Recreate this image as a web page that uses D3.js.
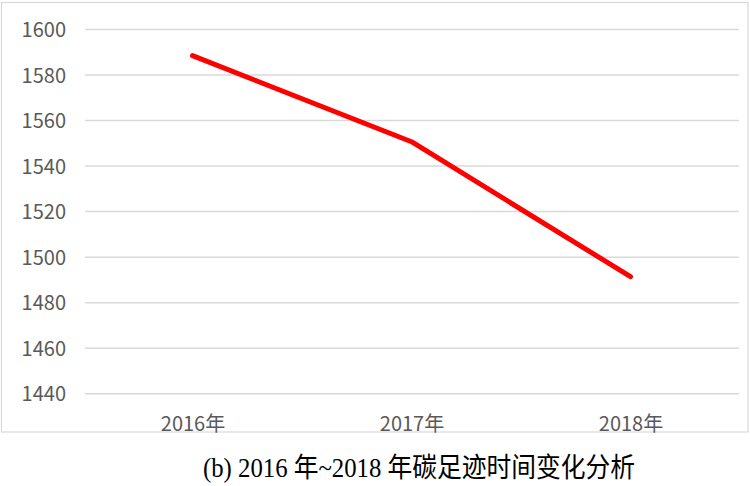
<!DOCTYPE html>
<html>
<head>
<meta charset="utf-8">
<script src="https://cdn.jsdelivr.net/npm/d3@7"></script>
<style>
  html, body { margin: 0; padding: 0; background: #fff; }
  svg { display: block; }
</style>
</head>
<body>
<svg id="chart" width="750" height="486"></svg>
<script>
const categories = ["2016年", "2017年", "2018年"];
const values = [1588.5, 1550.7, 1491.4];
const yTicks = [1440, 1460, 1480, 1500, 1520, 1540, 1560, 1580, 1600];
const caption = "(b) 2016 年~2018 年碳足迹时间变化分析";

const svg = d3.select("#chart");

// outer frame
svg.append("rect")
  .attr("x", 1.5).attr("y", 2.5)
  .attr("width", 746.5).attr("height", 429.5)
  .attr("fill", "#fff")
  .attr("stroke", "#d9d9d9")
  .attr("stroke-width", 1.2);

const x = d3.scalePoint().domain(categories).range([83, 740]).padding(0.5);
const y = d3.scaleLinear().domain([1440, 1600]).range([393.7, 29.5]);

// gridlines
svg.append("g").selectAll("line").data(yTicks).join("line")
  .attr("x1", 85).attr("x2", 739)
  .attr("y1", d => y(d)).attr("y2", d => y(d))
  .attr("stroke", "#d9d9d9").attr("stroke-width", 1.5);

// y labels
const yAxis = d3.axisLeft(y).tickValues(yTicks).tickSize(0).tickPadding(0).tickFormat(d3.format("d"));
const gy = svg.append("g").attr("transform", "translate(66,0)").call(yAxis);
gy.select(".domain").remove();
gy.selectAll("text")
  .attr("font-family", "'Noto Sans CJK SC', 'Noto Sans', sans-serif")
  .attr("font-size", 20)
  .attr("fill", "#595959")
  .attr("dy", "0.35em");

// x labels
const xAxis = d3.axisBottom(x).tickSize(0).tickPadding(0);
const gx = svg.append("g").attr("transform", "translate(0,431)").call(xAxis);
gx.select(".domain").remove();
gx.selectAll("text")
  .attr("font-family", "'Noto Sans CJK SC', 'Noto Sans', sans-serif")
  .attr("font-size", 20)
  .attr("fill", "#595959")
  .attr("dy", 0)
  .attr("y", 0);

// line
const line = d3.line().x((d, i) => x(categories[i])).y(d => y(d));
svg.append("path")
  .datum(values)
  .attr("d", line)
  .attr("fill", "none")
  .attr("stroke", "#ff0000")
  .attr("stroke-width", 5)
  .attr("stroke-linecap", "round")
  .attr("stroke-linejoin", "round");

// caption
svg.append("text")
  .attr("x", 203).attr("y", 477)
  .attr("font-family", "'Liberation Serif', 'Noto Sans CJK SC', serif")
  .attr("font-size", 27)
  .attr("textLength", 432)
  .attr("lengthAdjust", "spacingAndGlyphs")
  .attr("fill", "#000")
  .text(caption);
</script>
</body>
</html>
